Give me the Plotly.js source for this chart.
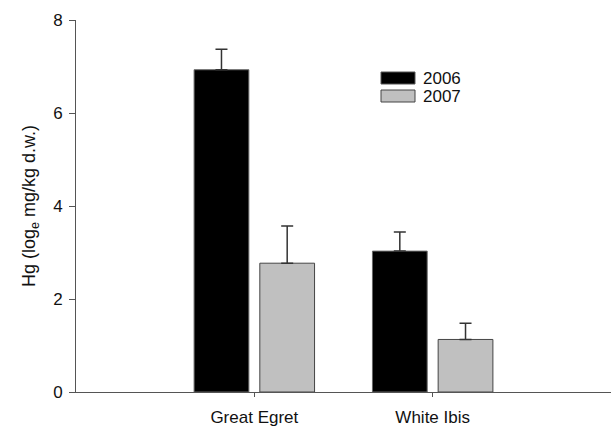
<!DOCTYPE html>
<html>
<head>
<meta charset="utf-8">
<script src="https://cdn.plot.ly/plotly-3.0.1.min.js"></script>
<style>html,body{margin:0;padding:0;background:#fff;}#chart{width:611px;height:426px;}</style>
</head>
<body>
<div id="chart"></div>
<script>
const categories = ["Great Egret", "White Ibis"];
const seriesNames = ["2006", "2007"];
const values2006 = [6.93, 3.03];
const errors2006 = [0.44, 0.41];
const values2007 = [2.77, 1.13];
const errors2007 = [0.8, 0.35];
const yTicks = [0, 2, 4, 6, 8];

const font = "Liberation Sans, Arial, Helvetica, sans-serif";

const traces = [
  {
    type: "bar", name: seriesNames[0], x: categories, y: values2006,
    marker: {color: "#000000", line: {color: "#666666", width: 1}},
    error_y: {type: "data", symmetric: false, array: errors2006, arrayminus: [0, 0], color: "#333333", thickness: 1.5, width: 6},
    showlegend: false
  },
  {
    type: "bar", name: seriesNames[1], x: categories, y: values2007,
    marker: {color: "#c0c0c0", line: {color: "#444444", width: 1}},
    error_y: {type: "data", symmetric: false, array: errors2007, arrayminus: [0, 0], color: "#333333", thickness: 1.5, width: 6},
    showlegend: false
  }
];

const layout = {
  width: 611, height: 426,
  margin: {l: 76, r: 0, t: 20, b: 34},
  paper_bgcolor: "#fff", plot_bgcolor: "#fff",
  font: {family: font, size: 17, color: "#111"},
  barmode: "group", bargap: 0.263, bargroupgap: 0.167,
  showlegend: false,
  xaxis: {
    range: [-1, 2], showgrid: false, zeroline: false,
    showline: true, linecolor: "#555", linewidth: 1,
    ticks: "outside", ticklen: 4, tickcolor: "#555",
    ticklabelstandoff: 6,
    tickfont: {size: 17, family: font}
  },
  yaxis: {
    range: [0, 8], tickvals: yTicks, showgrid: false, zeroline: false,
    showline: true, linecolor: "#555", linewidth: 1,
    ticks: "outside", ticklen: 6, tickcolor: "#555",
    ticklabelstandoff: 3,
    tickfont: {size: 17, family: font},
    title: {text: "Hg (log<sub>e</sub> mg/kg d.w.)", font: {size: 18, family: font}, standoff: 12}
  },
  shapes: [
    {type: "rect", xref: "paper", yref: "paper", x0: (381-76)/535, x1: (415-76)/535, y0: (392-84)/372, y1: (392-72)/372, fillcolor: "#000", line: {color: "#555", width: 1}},
    {type: "rect", xref: "paper", yref: "paper", x0: (381-76)/535, x1: (415-76)/535, y0: (392-102)/372, y1: (392-90)/372, fillcolor: "#c0c0c0", line: {color: "#444", width: 1}}
  ],
  annotations: [
    {xref: "paper", yref: "paper", x: (421-76)/535, y: (392-78)/372, xanchor: "left", yanchor: "middle", height: 16, text: seriesNames[0], showarrow: false, font: {size: 17, family: font}},
    {xref: "paper", yref: "paper", x: (421-76)/535, y: (392-96)/372, xanchor: "left", yanchor: "middle", height: 16, text: seriesNames[1], showarrow: false, font: {size: 17, family: font}}
  ]
};

Plotly.newPlot("chart", traces, layout, {displayModeBar: false, staticPlot: true});
</script>
</body>
</html>
